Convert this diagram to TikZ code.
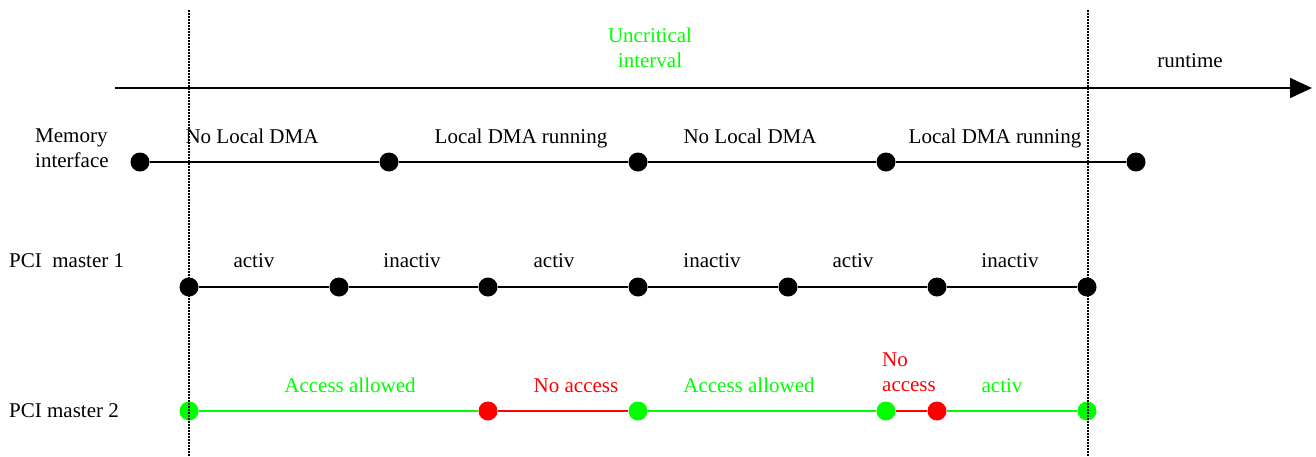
\documentclass[tikz,border=0pt]{standalone}
\usepackage{fontspec}
\setmainfont{Liberation Serif}
\usetikzlibrary{arrows.meta}
\definecolor{okgreen}{RGB}{0,255,0}
\definecolor{nored}{RGB}{255,0,0}
\tikzset{
  dot/.style={circle, fill=#1, inner sep=0pt, minimum size=19pt},
  dot/.default=black,
  seg/.style={line width=1.6pt, draw=#1},
  seg/.default=black,
  lbl/.style={anchor=base, inner sep=0pt, align=center, text=#1},
  lbl/.default=black,
  rowname/.style={anchor=base west, inner sep=0pt, align=left},
  bound/.style={line width=1.2pt, dash pattern=on 1.5pt off 1.5pt},
}
\begin{document}
\begin{tikzpicture}[x=1pt, y=-1pt, font=\fontsize{21}{24.5}\selectfont]
\useasboundingbox (0,0) rectangle (1316,456);

% time axis
\coordinate (axS) at (115,88);
\coordinate (axE) at (1312,88);
\draw[line width=1.8pt, -{Triangle[length=22pt, width=20pt]}] (axS) -- (axE);
% multi-line labels are anchored at the baseline of their last line
\node[lbl=okgreen] (unc) at (650,67) {Uncritical\\interval};
\node[lbl] (rt) at (1190,67) {runtime};

% memory interface
\node[rowname] (memname) at (35,167) {Memory\\interface};
\foreach \i/\x in {1/140, 2/389, 3/638, 4/886, 5/1136}
  \node[dot] (m\i) at (\x,162) {};
\draw[seg] (m1) -- (m2) -- (m3) -- (m4) -- (m5);
\node[lbl] (ml1) at (252,143) {No Local DMA};
\node[lbl] (ml2) at (521,143) {Local DMA running};
\node[lbl] (ml3) at (750,143) {No Local DMA};
\node[lbl] (ml4) at (995,143) {Local DMA running};

% PCI master 1
\node[rowname] (p1name) at (9,267) {PCI\ \ master 1};
\foreach \i/\x in {1/189, 2/339, 3/488, 4/638, 5/788, 6/937, 7/1087}
  \node[dot] (a\i) at (\x,287) {};
\draw[seg] (a1) -- (a2) -- (a3) -- (a4) -- (a5) -- (a6) -- (a7);
\node[lbl] (al1) at (254,267) {activ};
\node[lbl] (al2) at (412,267) {inactiv};
\node[lbl] (al3) at (554,267) {activ};
\node[lbl] (al4) at (712,267) {inactiv};
\node[lbl] (al5) at (853,267) {activ};
\node[lbl] (al6) at (1010,267) {inactiv};

% PCI master 2
\node[rowname] (p2name) at (9,417) {PCI master 2};
\node[dot=okgreen] (b1) at (189,411) {};
\node[dot=nored]   (b2) at (488,411) {};
\node[dot=okgreen] (b3) at (638,411) {};
\node[dot=okgreen] (b4) at (886,411) {};
\node[dot=nored]   (b5) at (937,411) {};
\node[dot=okgreen] (b6) at (1087,411) {};
\draw[seg=okgreen] (b1) -- (b2);
\draw[seg=nored]   (b2) -- (b3);
\draw[seg=okgreen] (b3) -- (b4);
\draw[seg=nored]   (b4) -- (b5);
\draw[seg=okgreen] (b5) -- (b6);
\node[lbl=okgreen] (bl1) at (350,392) {Access allowed};
\node[lbl=nored]   (bl2) at (576,392) {No access};
\node[lbl=okgreen] (bl3) at (749,392) {Access allowed};
\node[lbl=nored, align=left] (bl4) at (909,391) {No\\access};
\node[lbl=okgreen] (bl5) at (1002,392) {activ};

% boundaries of the interval
\coordinate (d1t) at (189,10);
\coordinate (d1b) at (189,456);
\coordinate (d2t) at (1088,10);
\coordinate (d2b) at (1088,456);
\draw[bound] (d1t) -- (d1b);
\draw[bound] (d2t) -- (d2b);
\end{tikzpicture}
\end{document}
